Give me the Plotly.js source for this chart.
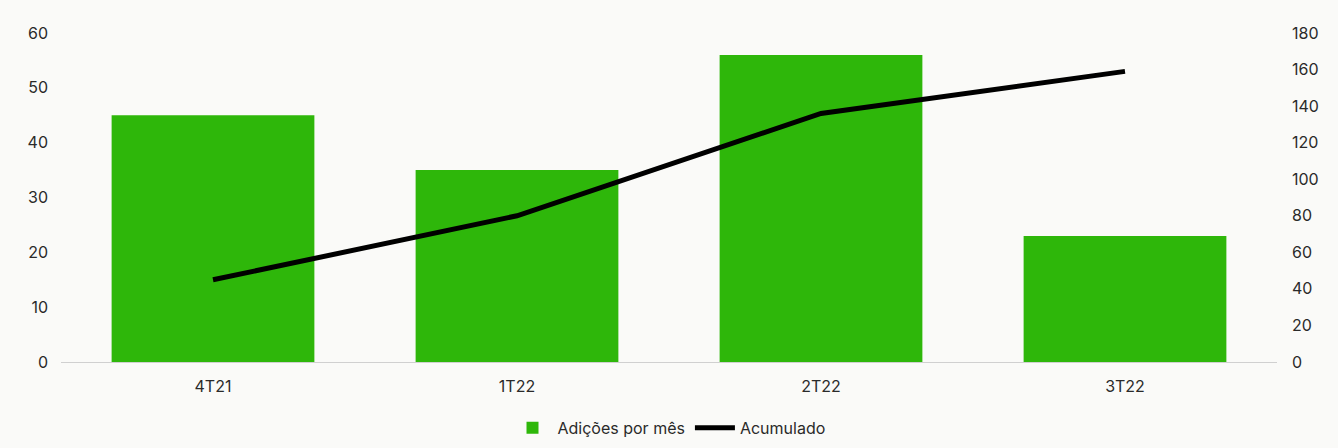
<!DOCTYPE html>
<html>
<head>
<meta charset="utf-8">
<script src="https://cdn.plot.ly/plotly-3.0.1.min.js"></script>
<style>html,body{margin:0;padding:0;background:#fafaf8;}#chart{width:1338px;height:448px;}</style>
</head>
<body>
<div id="chart"></div>
<script>
const categories = ["4T21", "1T22", "2T22", "3T22"];
const adicoes = [45, 35, 56, 23];
const acumulado = [45, 80, 136, 159];
const leftTicks = [0, 10, 20, 30, 40, 50, 60];
const rightTicks = [0, 20, 40, 60, 80, 100, 120, 140, 160, 180];

const font = {family: "Inter, 'Liberation Sans', sans-serif", size: 16, color: "#2a2a2a"};

const traces = [
  {type: "bar", x: categories, y: adicoes, name: "Adições por mês",
   marker: {color: "#2eb70a"}, yaxis: "y", hoverinfo: "none"},
  {type: "scatter", mode: "lines", x: categories, y: acumulado, name: "Acumulado",
   line: {color: "#000000", width: 5}, yaxis: "y2", hoverinfo: "none"}
];

const layout = {
  width: 1338, height: 448,
  paper_bgcolor: "#fafaf8", plot_bgcolor: "#fafaf8",
  margin: {l: 61, r: 61, t: 33, b: 86, autoexpand: false},
  font: font,
  bargap: 0.333,
  showlegend: true,
  legend: {orientation: "h", x: 0.5, xanchor: "center", y: -0.2, yanchor: "middle",
           font: {family: font.family, size: 16, color: "#2a2a2a"}, traceorder: "normal",
           itemwidth: 40},
  xaxis: {type: "category", showgrid: false, showline: true, linecolor: "#d0d0d0", linewidth: 1,
          ticks: "", tickfont: font, zeroline: false, ticklabelstandoff: 10},
  yaxis: {range: [0, 60], tickvals: leftTicks, showgrid: false, zeroline: false, showline: false,
          ticks: "", tickfont: font, ticklabelstandoff: 12},
  yaxis2: {range: [0, 180], tickvals: rightTicks, overlaying: "y", side: "right", showgrid: false,
           zeroline: false, showline: false, ticks: "", tickfont: font, ticklabelstandoff: 14}
};

Plotly.newPlot("chart", traces, layout, {displayModeBar: false, staticPlot: true});
</script>
</body>
</html>
